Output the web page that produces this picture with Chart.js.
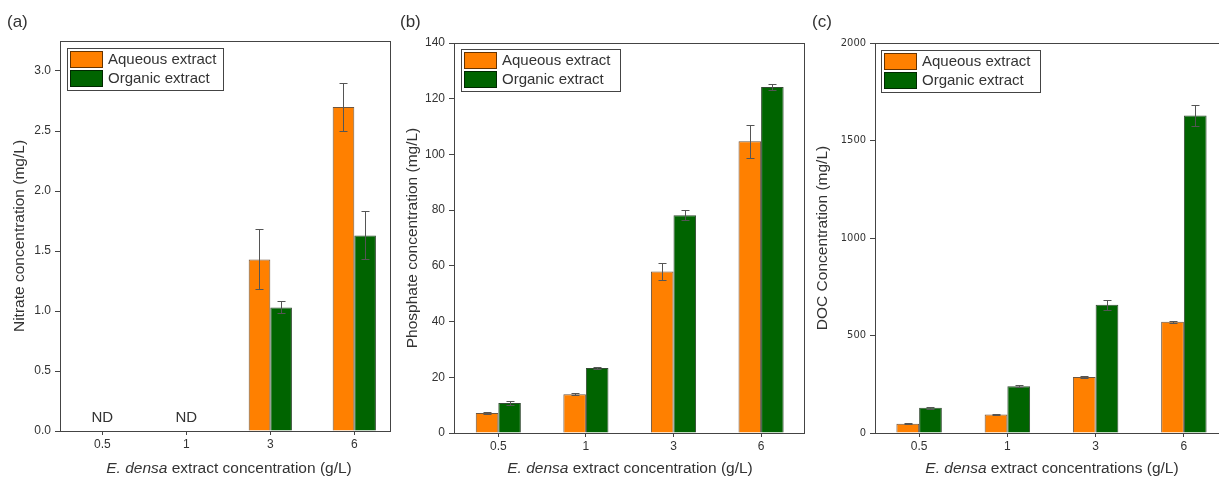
<!DOCTYPE html>
<html>
<head>
<meta charset="utf-8">
<title>E. densa extract nutrients</title>
<script src="https://cdn.jsdelivr.net/npm/chart.js@4"></script>
<style>
  html, body { margin: 0; padding: 0; background: #fff; width: 1219px; height: 477px; overflow: hidden; }
  .panel { position: absolute; top: 0; }
</style>
</head>
<body>
<canvas id="panelA" class="panel" style="left:0px" width="400" height="477"></canvas>
<canvas id="panelB" class="panel" style="left:400px" width="412" height="477"></canvas>
<canvas id="panelC" class="panel" style="left:812px" width="430" height="477"></canvas>
<script>
// Extract concentrations (g/L)
const categories = ['0.5', '1', '3', '6'];
const seriesNames = ['Aqueous extract', 'Organic extract'];

// (a) Nitrate (mg/L); null = not detected
const nitrateAqueous    = [null, null, 1.43, 2.70];
const nitrateAqueousErr = [null, null, 0.25, 0.20];
const nitrateOrganic    = [null, null, 1.03, 1.63];
const nitrateOrganicErr = [null, null, 0.05, 0.20];

// (b) Phosphate (mg/L)
const phosphateAqueous    = [7.2, 13.9, 58.0, 104.7];
const phosphateAqueousErr = [0.4, 0.4, 3.0, 6.0];
const phosphateOrganic    = [10.8, 23.3, 78.2, 124.2];
const phosphateOrganicErr = [0.8, 0.3, 1.8, 1.2];

// (c) DOC (mg/L)
const docAqueous    = [48, 95, 287, 570];
const docAqueousErr = [3, 3, 5, 5];
const docOrganic    = [130, 240, 658, 1628];
const docOrganicErr = [5, 5, 25, 55];

const FONT = '"Liberation Sans", Arial, Helvetica, sans-serif';
const NARROW = '"Liberation Sans Narrow", "DejaVu Sans Condensed", "Liberation Sans", Arial, sans-serif';
const TEXT = '#333';
const AXIS = '#444';
const ORANGE = '#FF8000';
const GREEN = '#006400';

const crisp = v => Math.round(v) + 0.5;

// Box around the plot area
const framePlugin = {
  id: 'frame',
  afterDraw(chart) {
    const { ctx, chartArea: a } = chart;
    ctx.save();
    ctx.strokeStyle = AXIS;
    ctx.lineWidth = 1;
    ctx.strokeRect(crisp(a.left), crisp(a.top), Math.round(a.right - a.left), Math.round(a.bottom - a.top));
    ctx.restore();
  }
};

// Standard-deviation whiskers
const errorBarPlugin = {
  id: 'errorBars',
  afterDatasetsDraw(chart) {
    const { ctx } = chart;
    const yScale = chart.scales.y;
    ctx.save();
    ctx.strokeStyle = '#555';
    ctx.lineWidth = 1;
    chart.data.datasets.forEach((ds, di) => {
      const meta = chart.getDatasetMeta(di);
      ds.errors.forEach((e, i) => {
        const v = ds.data[i].y;
        if (v == null || e == null) return;
        const x = crisp(meta.data[i].x);
        const yt = Math.round(yScale.getPixelForValue(v + e)) + 0.5;
        const yb = Math.round(yScale.getPixelForValue(v - e)) + 0.5;
        ctx.beginPath();
        ctx.moveTo(x, yt); ctx.lineTo(x, yb);
        ctx.moveTo(x - 4, yt); ctx.lineTo(x + 4, yt);
        ctx.moveTo(x - 4, yb); ctx.lineTo(x + 4, yb);
        ctx.stroke();
      });
    });
    ctx.restore();
  }
};

// Framed legend inside the top-left corner of the plot
const boxLegendPlugin = {
  id: 'boxLegend',
  afterDraw(chart, args, opts) {
    const { ctx, chartArea: a } = chart;
    const x0 = Math.round(a.left + opts.dx), y0 = Math.round(a.top + opts.dy);
    const w = opts.width, h = 42;
    ctx.save();
    ctx.fillStyle = '#fff';
    ctx.fillRect(x0, y0, w, h);
    ctx.strokeStyle = AXIS;
    ctx.lineWidth = 1;
    ctx.strokeRect(x0 + 0.5, y0 + 0.5, w, h);
    ctx.font = '15px ' + FONT;
    ctx.textBaseline = 'middle';
    chart.data.datasets.forEach((ds, i) => {
      const sy = y0 + 3 + i * 19;
      ctx.fillStyle = ds.backgroundColor;
      ctx.fillRect(x0 + 3, sy, 33, 17);
      ctx.strokeStyle = 'rgba(0,0,0,0.6)';
      ctx.strokeRect(x0 + 3.5, sy + 0.5, 32, 16);
      ctx.fillStyle = TEXT;
      ctx.fillText(ds.label, x0 + 41, sy + 9);
    });
    ctx.restore();
  }
};

// Panel letter, x-axis title with italic species name, and ND marks
const textPlugin = {
  id: 'panelText',
  afterDraw(chart, args, opts) {
    const { ctx, chartArea: a } = chart;
    ctx.save();
    ctx.fillStyle = TEXT;
    ctx.textBaseline = 'middle';
    ctx.textAlign = 'left';
    ctx.font = '17px ' + FONT;
    ctx.fillText(opts.letter, opts.letterX, 22);

    const italicPart = 'E. densa';
    const plainPart = ' ' + opts.xTitle;
    ctx.font = 'italic 15.5px ' + FONT;
    const w1 = ctx.measureText(italicPart).width;
    ctx.font = '15.5px ' + FONT;
    const w2 = ctx.measureText(plainPart).width;
    const start = opts.xTitleCenter - (w1 + w2) / 2;
    ctx.font = 'italic 15.5px ' + FONT;
    ctx.fillText(italicPart, start, 469);
    ctx.font = '15.5px ' + FONT;
    ctx.fillText(plainPart, start + w1, 469);

    // "ND" where no series was detected
    const xs = chart.scales.x, ys = chart.scales.y;
    ctx.font = '15px ' + FONT;
    ctx.textAlign = 'center';
    categories.forEach((c, i) => {
      const none = chart.data.datasets.every(ds => ds.data[i].y == null);
      if (none) ctx.fillText('ND', xs.getPixelForValue(i), ys.getPixelForValue(0) - 13);
    });
    ctx.restore();
  }
};

function makePanel(id, p) {
  const toPoints = arr => arr.map((v, i) => ({ x: i, y: v }));
  return new Chart(document.getElementById(id), {
    type: 'bar',
    data: {
      datasets: [
        { label: seriesNames[0], data: toPoints(p.aq), errors: p.aqErr,
          backgroundColor: ORANGE, borderColor: 'rgba(60,30,0,0.75)', borderWidth: 1 },
        { label: seriesNames[1], data: toPoints(p.org), errors: p.orgErr,
          backgroundColor: GREEN, borderColor: 'rgba(0,30,0,0.8)', borderWidth: 1 }
      ]
    },
    options: {
      responsive: false,
      animation: false,
      events: [],
      layout: { padding: { left: 0, top: p.top, right: p.right, bottom: 0 } },
      datasets: { bar: { categoryPercentage: 0.515, barPercentage: 1.0 } },
      scales: {
        x: {
          type: 'linear',
          min: p.xMin, max: p.xMax,
          offset: false,
          afterBuildTicks: s => { s.ticks = categories.map((c, i) => ({ value: i })); },
          afterFit: s => { s.height = 477 - p.bottom; },
          ticks: { color: TEXT, font: { family: FONT, size: 12 }, padding: 2,
                   maxRotation: 0, autoSkip: false, callback: v => categories[v] },
          grid: { drawOnChartArea: false, drawTicks: true, tickLength: 4, color: AXIS, offset: false },
          border: { display: true, color: AXIS }
        },
        y: {
          min: 0, max: p.yMax,
          afterFit: s => { s.width = p.left; },
          ticks: { stepSize: p.yStep, includeBounds: false, color: TEXT,
                   font: { family: p.yTickFont, size: p.yTickSize }, padding: 4,
                   callback: p.yFormat },
          grid: { drawOnChartArea: false, drawTicks: true, tickLength: 5, color: AXIS },
          border: { display: true, color: AXIS },
          title: { display: true, text: p.yTitle, color: TEXT,
                   font: { family: FONT, size: 15.5 }, padding: { top: p.yTitlePad, bottom: 0 } }
        }
      },
      plugins: {
        legend: { display: false },
        tooltip: { enabled: false },
        boxLegend: { dx: p.legDx, dy: p.legDy, width: p.legW },
        panelText: { letter: p.letter, letterX: p.letterX, xTitle: p.xTitle, xTitleCenter: p.xTitleCenter }
      }
    },
    plugins: [framePlugin, errorBarPlugin, textPlugin, boxLegendPlugin]
  });
}

makePanel('panelA', {
  aq: nitrateAqueous, aqErr: nitrateAqueousErr, org: nitrateOrganic, orgErr: nitrateOrganicErr,
  top: 41, bottom: 431, left: 60, right: 10,
  xMin: -0.504, xMax: 3.425,
  yMax: 3.25, yStep: 0.5, yTickFont: FONT, yTickSize: 12, yFormat: v => v.toFixed(1),
  yTitle: 'Nitrate concentration (mg/L)', yTitlePad: 10.5,
  legDx: 7, legDy: 7, legW: 156,
  letter: '(a)', letterX: 7, xTitle: 'extract concentration (g/L)', xTitleCenter: 229
});

makePanel('panelB', {
  aq: phosphateAqueous, aqErr: phosphateAqueousErr, org: phosphateOrganic, orgErr: phosphateOrganicErr,
  top: 43, bottom: 433, left: 54, right: 8,
  xMin: -0.506, xMax: 3.49,
  yMax: 140, yStep: 20, yTickFont: FONT, yTickSize: 12, yFormat: v => String(v),
  yTitle: 'Phosphate concentration (mg/L)', yTitlePad: 3.5,
  legDx: 7, legDy: 6, legW: 159,
  letter: '(b)', letterX: 0, xTitle: 'extract concentration (g/L)', xTitleCenter: 230
});

makePanel('panelC', {
  aq: docAqueous, aqErr: docAqueousErr, org: docOrganic, orgErr: docOrganicErr,
  top: 43, bottom: 433, left: 63, right: 14,
  xMin: -0.5, xMax: 3.5,
  yMax: 2000, yStep: 500, yTickFont: NARROW, yTickSize: 11, yFormat: v => String(v),
  yTitle: 'DOC Concentration (mg/L)', yTitlePad: 1.5,
  legDx: 6, legDy: 7, legW: 159,
  letter: '(c)', letterX: 0, xTitle: 'extract concentrations (g/L)', xTitleCenter: 240
});
</script>
</body>
</html>
